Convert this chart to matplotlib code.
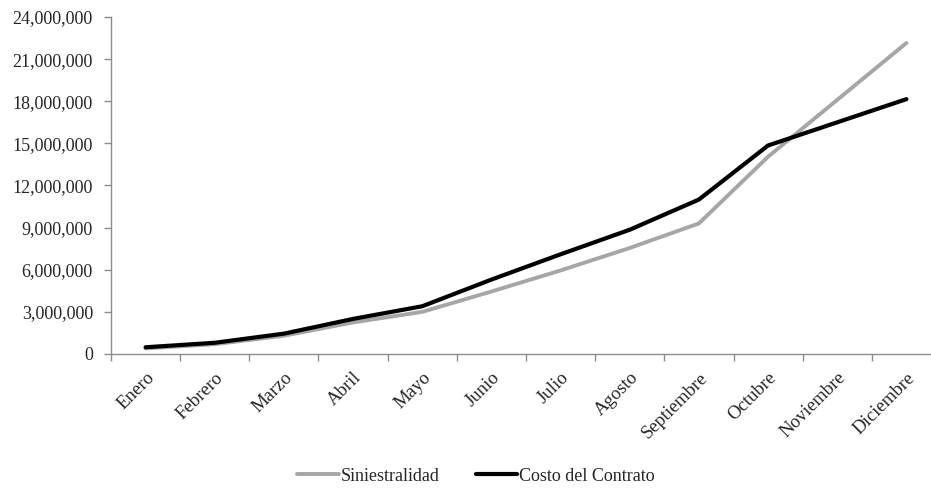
import matplotlib
matplotlib.use("Agg")
import matplotlib.pyplot as plt
from matplotlib.ticker import FuncFormatter, FixedLocator

meses = ["Enero", "Febrero", "Marzo", "Abril", "Mayo", "Junio", "Julio",
         "Agosto", "Septiembre", "Octubre", "Noviembre", "Diciembre"]
siniestralidad = [400000, 700000, 1300000, 2250000, 3000000, 4450000, 5950000,
                  7550000, 9300000, 14050000, 18100000, 22150000]
costo_contrato = [480000, 800000, 1450000, 2500000, 3400000, 5300000, 7100000,
                  8850000, 11000000, 14850000, 16500000, 18150000]
y_ticks = list(range(0, 24000001, 3000000))

plt.rcParams["font.family"] = ["Liberation Serif", "DejaVu Serif"]
axis_grey = "#8c8c8c"
text_col = "#262626"

fig = plt.figure(figsize=(9.31, 4.90), dpi=100)
ax = fig.add_axes([111 / 931, 1 - 354 / 490, 830 / 931, (354 - 17) / 490])

x = list(range(len(meses)))
ax.plot(x, siniestralidad, color="#a6a6a6", lw=2.8, solid_joinstyle="round",
        solid_capstyle="round", label="Siniestralidad", zorder=3)
ax.plot(x, costo_contrato, color="black", lw=3.0, solid_joinstyle="round",
        solid_capstyle="round", label="Costo del Contrato", zorder=4)

ax.set_xlim(-0.5, len(meses) - 0.5)
ax.set_ylim(0, 24000000)
ax.set_yticks(y_ticks)
ax.yaxis.set_major_formatter(FuncFormatter(lambda v, p: f"{int(v):,}"))

# category labels centred, tick marks on category boundaries
ax.set_xticks(x)
ax.set_xticklabels(meses, rotation=45, ha="right", rotation_mode="anchor")
ax.xaxis.set_minor_locator(FixedLocator([i - 0.5 for i in range(len(meses) + 1)]))
ax.tick_params(axis="x", which="major", length=0, pad=11, labelsize=13.5,
               labelcolor=text_col)
ax.tick_params(axis="x", which="minor", length=5, direction="out",
               color=axis_grey, width=1)
ax.tick_params(axis="y", length=5, direction="out", color=axis_grey, width=1,
               labelsize=13, labelcolor=text_col, pad=8)

for s in ["top", "right"]:
    ax.spines[s].set_visible(False)
for s in ["left", "bottom"]:
    ax.spines[s].set_color(axis_grey)
    ax.spines[s].set_linewidth(1)

leg = fig.legend(loc="center", bbox_to_anchor=(476 / 931, 1 - 476 / 490), ncol=2,
                 frameon=False, handlelength=2.3, handletextpad=0.1,
                 columnspacing=2.0, fontsize=13)
for t in leg.get_texts():
    t.set_color(text_col)

fig.savefig("out.png", dpi=100)
